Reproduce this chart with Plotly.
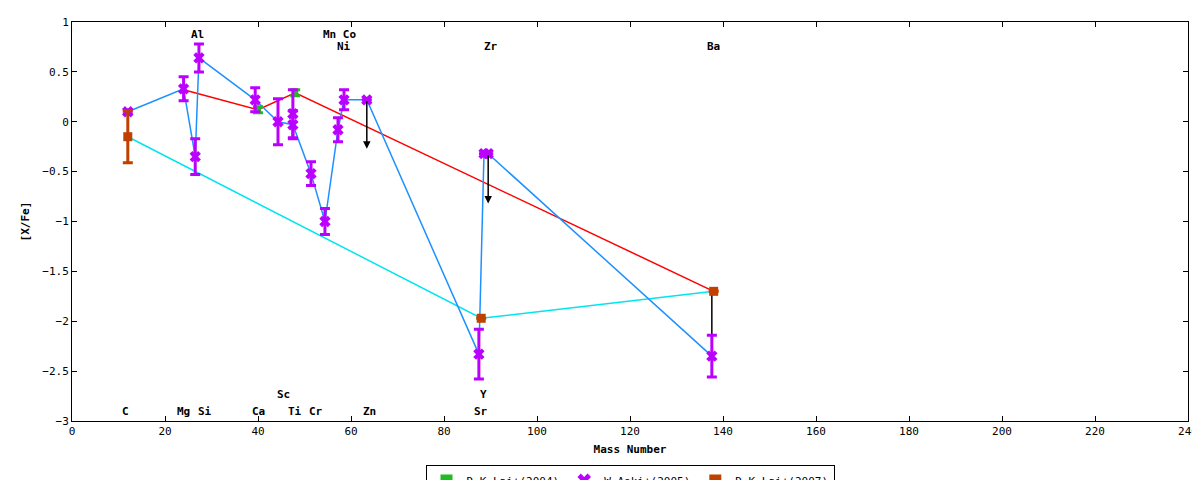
import plotly.graph_objects as go

# W.Aoki+(2005) (purple) in plotting order along blue line
aoki_x = [12, 24, 26.5, 27.3, 39.4, 44.3, 47.5, 51.4, 54.4, 57.2, 58.5, 63.4, 87.5, 88.6, 89.5, 137.6]
aoki_y = [0.10, 0.33, -0.35, 0.64, 0.22, 0.00, -0.03, -0.52, -1.00, -0.08, 0.22, 0.22, -2.33, -0.32, -0.32, -2.35]
aoki_e = [0.02, 0.12, 0.18, 0.14, 0.12, 0.23, 0.14, 0.12, 0.13, 0.12, 0.10, 0.0, 0.25, 0.0, 0.0, 0.21]
aoki2_x = [47.5]
aoki2_y = [0.08]
aoki2_e = [0.24]
# D.K.Lai+(2004) (green, red line)
lai04_x = [24, 40, 48, 138]
lai04_y = [0.32, 0.12, 0.29, -1.70]
lai04_e = [0.0, 0.03, 0.03, 0.0]
# D.K.Lai+(2007) (orange, cyan line)
lai07_x = [12, 88, 138]
lai07_y = [-0.15, -1.97, -1.70]
lai07_e = [0.26, 0.0, 0.0]
# upper limits (x, from, to)
lim_x = [63.4, 89.5]
lim_from = [0.22, -0.32]
lim_to = [-0.27, -0.82]
ba_lim_x = [137.6, 137.6]
ba_lim_y = [-1.70, -2.15]
# element labels
lab_txt = ["C", "Mg", "Al", "Si", "Ca", "Sc", "Ti", "Cr", "Mn Co", "Ni", "Zn", "Sr", "Y", "Zr", "Ba"]
lab_x = [11.5, 24, 27, 28.5, 40, 45.5, 48, 52.5, 57.5, 58.5, 64, 88, 88.5, 90, 138]
lab_y = [-2.9, -2.9, 0.87, -2.9, -2.9, -2.73, -2.9, -2.9, 0.87, 0.75, -2.9, -2.9, -2.73, 0.75, 0.75]

mono = "DejaVu Sans Mono"
fig = go.Figure()
fig.add_trace(go.Scatter(x=lai04_x, y=lai04_y, mode="lines", line=dict(color="#ff0000", width=1.5),
                         showlegend=False, hoverinfo="skip"))
fig.add_trace(go.Scatter(x=lai07_x, y=lai07_y, mode="lines", line=dict(color="#00e5ee", width=1.5),
                         showlegend=False, hoverinfo="skip"))
fig.add_trace(go.Scatter(x=aoki_x, y=aoki_y, mode="lines", line=dict(color="#1e90ff", width=1.5),
                         showlegend=False, hoverinfo="skip"))
fig.add_trace(go.Scatter(x=ba_lim_x, y=ba_lim_y, mode="lines", line=dict(color="black", width=1.5),
                         showlegend=False, hoverinfo="skip"))
fig.add_trace(go.Scatter(x=lai04_x[1:3], y=lai04_y[1:3], mode="markers", name="D.K.Lai+(2004)",
                         marker=dict(color="#22bb22", symbol="square", size=6),
                         error_y=dict(array=lai04_e[1:3], color="#22bb22", thickness=3, width=5)))
fig.add_trace(go.Scatter(x=aoki_x + aoki2_x, y=aoki_y + aoki2_y, mode="markers", name="W.Aoki+(2005)",
                         marker=dict(color="#bb00ff", symbol="x", size=10),
                         error_y=dict(array=aoki_e + aoki2_e, color="#bb00ff", thickness=3, width=5)))
fig.add_trace(go.Scatter(x=lai07_x, y=lai07_y, mode="markers", name="D.K.Lai+(2007)",
                         marker=dict(color="#c04000", symbol="square", size=9),
                         error_y=dict(array=lai07_e, color="#c04000", thickness=3, width=5)))
for x, a, b in zip(lim_x, lim_from, lim_to):
    fig.add_annotation(x=x, y=b, ax=x, ay=a, xref="x", yref="y", axref="x", ayref="y",
                       showarrow=True, arrowhead=2, arrowsize=1, arrowwidth=1.5, arrowcolor="black", text="")
for t, x, y in zip(lab_txt, lab_x, lab_y):
    fig.add_annotation(x=x, y=y, text="<b>" + t + "</b>", showarrow=False, font=dict(family=mono, size=11, color="black"))

ax = dict(showgrid=False, zeroline=False, showline=True, linecolor="black", linewidth=1, mirror="ticks",
          ticks="inside", ticklen=5, tickcolor="black", tickfont=dict(family=mono, size=11, color="black"))
fig.update_xaxes(range=[0, 240], dtick=20, title=dict(text="<b>Mass Number</b>", font=dict(family=mono, size=11, color="black"), standoff=8), **ax)
fig.update_yaxes(range=[-3, 1], dtick=0.5, title=dict(text="<b>[X/Fe]</b>", font=dict(family=mono, size=11, color="black"), standoff=10), **ax)
fig.update_layout(width=1200, height=480, margin=dict(l=64, r=20, t=14, b=67, autoexpand=False),
                  plot_bgcolor="white", paper_bgcolor="white",
                  legend=dict(orientation="h", x=0.5, xanchor="center", y=-0.11, yanchor="top",
                              bordercolor="black", borderwidth=1, itemsizing="constant",
                              tracegroupgap=0, font=dict(family=mono, size=11, color="black")))
fig.write_html("out.html")
